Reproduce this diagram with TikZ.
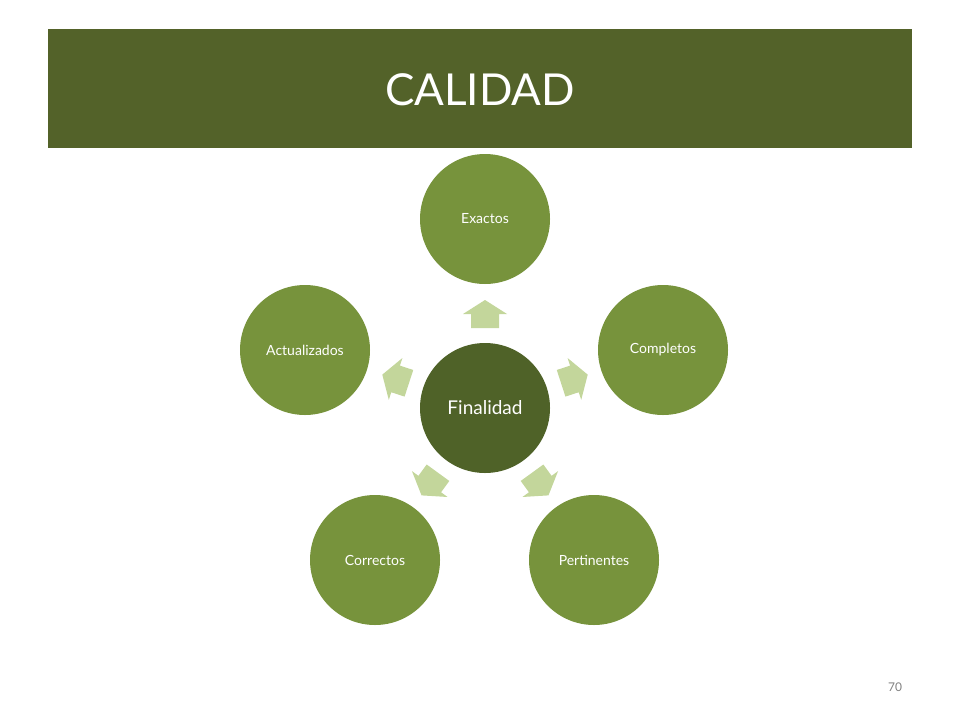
\documentclass[tikz,border=0pt]{standalone}
\usepackage{fontspec}
\setmainfont{Lato}
\definecolor{band}{HTML}{536229}
\definecolor{outer}{HTML}{77933C}
\definecolor{inner}{HTML}{4F6228}
\definecolor{arr}{HTML}{C3D69B}
\tikzset{
  outerc/.style={circle,fill=outer,minimum size=130pt,inner sep=0pt,text=white,font=\fontsize{14}{16}\selectfont},
  arrshape/.style={fill=arr,draw=none}
}
\begin{document}
\begin{tikzpicture}[x=1pt,y=-1pt]
\useasboundingbox (0,0) rectangle (960,720);
\fill[band] (48,29) rectangle (912,148);
\node[text=white,font=\fontsize{44}{48}\selectfont] (title) at (480,90) {CALIDAD};
\node[circle,fill=inner,minimum size=130pt,inner sep=0pt,text=white,font=\fontsize{19}{22}\selectfont] (c) at (485,408) {Finalidad};
\node[outerc] (e) at (485,219) {Exactos};
\node[outerc] (co) at (663,350) {Completos};
\node[outerc] (p) at (594,560) {Pertinentes};
\node[outerc] (cr) at (375,560) {Correctos};
\node[outerc] (a) at (305,350) {Actualizados};
\foreach \ang in {0,72,144,216,288}{
  \begin{scope}[shift={(c.center)},rotate=\ang]
    \fill[arrshape] (-14,-80) -- (14,-80) -- (14,-94) -- (22,-94) -- (0,-108) -- (-22,-94) -- (-14,-94) -- cycle;
  \end{scope}
}
\node[text=gray,font=\fontsize{12}{14}\selectfont] (pg) at (895,687) {70};
\end{tikzpicture}
\end{document}
